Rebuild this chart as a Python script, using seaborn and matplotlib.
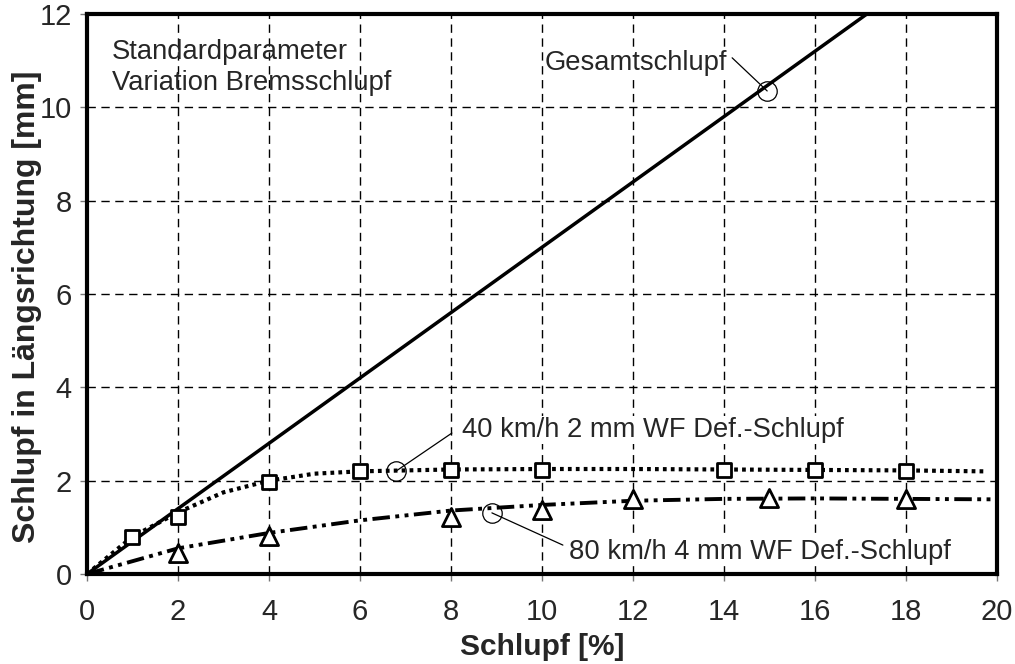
import numpy as np
import pandas as pd
import matplotlib
matplotlib.use("Agg")
import matplotlib.pyplot as plt
import seaborn as sns

sns.set_theme(style="white")
plt.rcParams['font.family'] = ['Liberation Sans', 'DejaVu Sans']

# Data
total_x = [0, 20]
total_y = [0, 14.0]

curve40_x = [0, 1, 2, 3, 4, 5, 6, 8, 10, 12, 14, 16, 18, 19.7]
curve40_y = [0, 0.8, 1.32, 1.75, 2.0, 2.15, 2.2, 2.24, 2.25, 2.25, 2.24, 2.23, 2.22, 2.2]
mark40_x = [1, 2, 4, 6, 8, 10, 14, 16, 18]
mark40_y = [0.79, 1.22, 1.97, 2.2, 2.22, 2.22, 2.22, 2.22, 2.2]

curve80_x = [0, 2, 4, 6, 8, 10, 12, 14, 16, 18, 20]
curve80_y = [0, 0.55, 0.88, 1.15, 1.36, 1.48, 1.57, 1.61, 1.62, 1.61, 1.6]
mark80_x = [2, 4, 8, 10, 12, 15, 18]
mark80_y = [0.45, 0.81, 1.22, 1.37, 1.6, 1.62, 1.6]

x_ticks = [0, 2, 4, 6, 8, 10, 12, 14, 16, 18, 20]
y_ticks = [0, 2, 4, 6, 8, 10, 12]

fig = plt.figure(figsize=(10.15, 6.64), dpi=100)
ax = fig.add_axes([0.0857, 0.1355, 0.8965, 0.8435])

sns.lineplot(x=total_x, y=total_y, ax=ax, color='black', lw=2.5, zorder=3)
sns.lineplot(x=curve40_x, y=curve40_y, ax=ax, color='black', lw=3,
             linestyle=(0, (0.9, 1.0)), zorder=3)
sns.lineplot(x=curve80_x, y=curve80_y, ax=ax, color='black', lw=2.8,
             linestyle=(0, (4.5, 1.4, 1, 1.4, 1, 1.4)), zorder=3)

sns.scatterplot(x=mark40_x, y=mark40_y, ax=ax, marker='s', s=100,
                facecolor='white', edgecolor='black', linewidth=2, zorder=4)
sns.scatterplot(x=mark80_x, y=mark80_y, ax=ax, marker='^', s=170,
                facecolor='white', edgecolor='black', linewidth=2, zorder=4)

ax.set_xlim(0, 20)
ax.set_ylim(0, 12)
ax.set_xticks(x_ticks)
ax.set_yticks(y_ticks)
ax.tick_params(axis='both', labelsize=21, length=5, width=1, color='#777777',
               direction='out', bottom=True, left=True)
ax.tick_params(axis='x', pad=12)
ax.tick_params(axis='y', pad=6)
for v in x_ticks[1:-1]:
    ax.axvline(v, color='black', lw=1, linestyle=(0, (6, 4)), zorder=1)
for v in y_ticks[1:-1]:
    ax.axhline(v, color='black', lw=1, linestyle=(0, (6, 4)), zorder=1)
for sp in ax.spines.values():
    sp.set_color('black')
    sp.set_linewidth(3)

ax.set_xlabel('Schlupf [%]', fontsize=21.5, fontweight='bold', va='center')
ax.xaxis.set_label_coords(0.5, -0.13)
ax.set_ylabel('Schlupf in Längsrichtung [mm]', fontsize=23, fontweight='bold',
              va='center', ha='center')
ax.yaxis.set_label_coords(-0.066, 0.477)

ax.text(0.55, 10.85, 'Standardparameter\nVariation Bremsschlupf', fontsize=19.7,
        ha='left', va='center', linespacing=1.25)

def label(xc, yc, text, tx, ty, ha, lx, ly):
    ax.plot([xc], [yc], marker='o', ms=14, mfc='none', mec='black', mew=0.9, zorder=5)
    ax.plot([xc, lx], [yc, ly], color='black', lw=0.9, zorder=5)
    ax.text(tx, ty, text, fontsize=19.7, ha=ha, va='center', zorder=6,
            bbox=dict(facecolor='white', edgecolor='none', pad=0.5))

label(14.95, 10.35, 'Gesamtschlupf', 14.07, 10.95, 'right', 14.18, 11.06)
label(6.8, 2.21, '40 km/h 2 mm WF Def.-Schlupf', 8.24, 3.09, 'left', 8.02, 3.02)
label(8.9, 1.31, '80 km/h 4 mm WF Def.-Schlupf', 10.59, 0.47, 'left', 10.46, 0.62)

fig.savefig('out.png', dpi=100)
